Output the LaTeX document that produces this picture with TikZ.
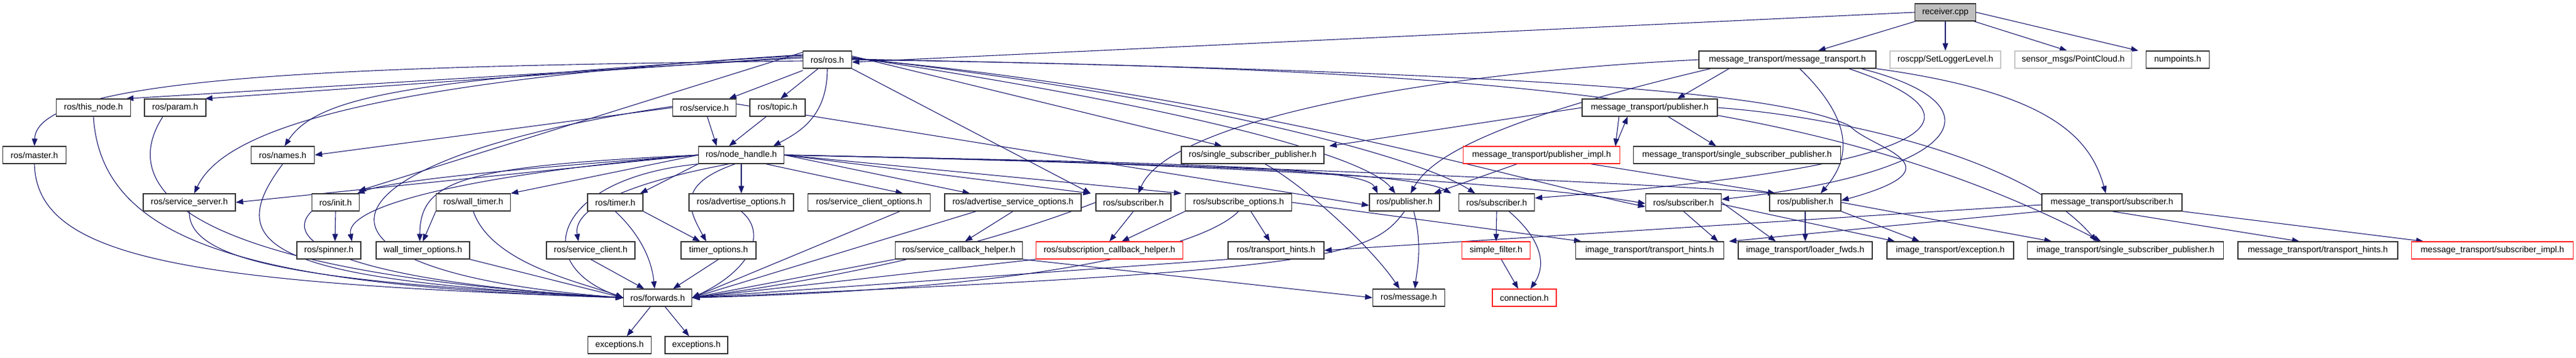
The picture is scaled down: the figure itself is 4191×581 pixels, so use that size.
\documentclass[tikz,border=0pt]{standalone}
\usepackage{fontspec}
\setmainfont{Liberation Sans}
\usetikzlibrary{arrows.meta}
\definecolor{mblue}{HTML}{191970}
\definecolor{rboxc}{HTML}{FF2020}
\pgfdeclarelayer{bg}
\pgfsetlayers{bg,main}
\tikzset{
  box/.style={draw=black!80, fill=white, line width=1.2pt, minimum height=28pt, inner sep=0pt, font=\fontsize{14}{16}\selectfont},
  redbox/.style={box, draw=rboxc},
  graybox/.style={box, draw=black!22},
  rootbox/.style={box, fill=black!25},
  edge/.style={draw=mblue, line width=1.1pt, -{Triangle[length=12pt,width=9pt]}},
}
\begin{document}
\begin{tikzpicture}[x=1pt,y=-1pt]
\useasboundingbox (0,0) rectangle (4191,581);
% row 0
\node[rootbox, minimum width=99pt] (rcv) at (3165,20) {receiver.cpp};
% row 1
\node[box, minimum width=79pt] (ros) at (1346,97) {ros/ros.h};
\node[box, minimum width=288pt] (mtmt) at (2908,97) {message\_transport/message\_transport.h};
\node[graybox, minimum width=180pt] (slog) at (3165,97) {roscpp/SetLoggerLevel.h};
\node[graybox, minimum width=190pt] (pcl) at (3373,97) {sensor\_msgs/PointCloud.h};
\node[box, minimum width=103pt] (nump) at (3543,97) {numpoints.h};
% row 2
\node[box, minimum width=121pt] (thisnode) at (152,175) {ros/this\_node.h};
\node[box, minimum width=100pt] (param) at (285,175) {ros/param.h};
\node[box, minimum width=103pt] (service) at (1146,175) {ros/service.h};
\node[box, minimum width=90pt] (topic) at (1265,175) {ros/topic.h};
\node[box, minimum width=220pt] (mtpub) at (2684,175) {message\_transport/publisher.h};
% row 3
\node[box, minimum width=103pt] (master) at (56,252) {ros/master.h};
\node[box, minimum width=103pt] (names) at (460,252) {ros/names.h};
\node[box, minimum width=139pt] (nh) at (1206,252) {ros/node\_handle.h};
\node[box, minimum width=232pt] (rssp) at (2038,252) {ros/single\_subscriber\_publisher.h};
\node[redbox, minimum width=255pt] (mtpubimpl) at (2508,252) {message\_transport/publisher\_impl.h};
\node[box, minimum width=337pt] (mtssp) at (2826,252) {message\_transport/single\_subscriber\_publisher.h};
% row 4
\node[box, minimum width=150pt] (srvserver) at (308,329) {ros/service\_server.h};
\node[box, minimum width=77pt] (init) at (546,329) {ros/init.h};
\node[box, minimum width=121pt] (walltimer) at (770,329) {ros/wall\_timer.h};
\node[box, minimum width=90pt] (timer) at (1001,329) {ros/timer.h};
\node[box, minimum width=170pt] (advopt) at (1206,329) {ros/advertise\_options.h};
\node[box, minimum width=199pt] (scliopt) at (1414,329) {ros/service\_client\_options.h};
\node[box, minimum width=222pt] (advsrvopt) at (1648,329) {ros/advertise\_service\_options.h};
\node[box, minimum width=122pt] (sub1) at (1844,329) {ros/subscriber.h};
\node[box, minimum width=173pt] (subopt) at (2015,329) {ros/subscribe\_options.h};
\node[box, minimum width=114pt] (pub1) at (2285,329) {ros/publisher.h};
\node[box, minimum width=123pt] (sub2) at (2435,329) {ros/subscriber.h};
\node[box, minimum width=123pt] (sub3) at (2739,329) {ros/subscriber.h};
\node[box, minimum width=116pt] (pub2) at (2937,329) {ros/publisher.h};
\node[box, minimum width=228pt] (mtsub) at (3436,329) {message\_transport/subscriber.h};
% row 5
\node[box, minimum width=104pt] (spinner) at (535,407) {ros/spinner.h};
\node[box, minimum width=152pt] (wtopt) at (688,407) {wall\_timer\_options.h};
\node[box, minimum width=144pt] (sclient) at (961,407) {ros/service\_client.h};
\node[box, minimum width=122pt] (topt) at (1169,407) {timer\_options.h};
\node[box, minimum width=207pt] (scbh) at (1560,407) {ros/service\_callback\_helper.h};
\node[redbox, minimum width=239pt] (subcbh) at (1805,407) {ros/subscription\_callback\_helper.h};
\node[box, minimum width=156pt] (rth) at (2076,407) {ros/transport\_hints.h};
\node[redbox, minimum width=111pt] (sfilter) at (2434,407) {simple\_filter.h};
\node[box, minimum width=241pt] (ith) at (2684,407) {image\_transport/transport\_hints.h};
\node[box, minimum width=218pt] (ilf) at (2937,407) {image\_transport/loader\_fwds.h};
\node[box, minimum width=206pt] (iexc) at (3173,407) {image\_transport/exception.h};
\node[box, minimum width=319pt] (issp) at (3458,407) {image\_transport/single\_subscriber\_publisher.h};
\node[box, minimum width=260pt] (mtth) at (3771,407) {message\_transport/transport\_hints.h};
\node[redbox, minimum width=263pt] (mtsubimpl) at (4055,407) {message\_transport/subscriber\_impl.h};
% row 6
\node[box, minimum width=111pt] (fwd) at (1070,484) {ros/forwards.h};
\node[box, minimum width=117pt] (msg) at (2292,484) {ros/message.h};
\node[redbox, minimum width=104pt] (conn) at (2480,484) {connection.h};
% row 7
\node[box, minimum width=103pt] (exc1) at (1008,561) {exceptions.h};
\node[box, minimum width=102pt] (exc2) at (1133,561) {exceptions.h};

\begin{pgfonlayer}{bg}
% ---- edges from receiver.cpp
\draw[edge] (rcv.west) -- ([yshift=-4pt]ros.east);
\draw[edge] (rcv) -- ([xshift=50pt]mtmt.north);
\draw[edge] (rcv) -- (slog);
\draw[edge] (rcv) -- ([xshift=-10pt]pcl.north);
\draw[edge] (rcv.east) -- ([xshift=-12pt]nump.north west);
% ---- from ros/ros.h
\draw[edge] ([yshift=-2pt]ros.west) .. controls (600,108) and (60,120) .. (master.north);
\draw[edge] ([yshift=3pt]ros.west) -- ([xshift=-8pt]thisnode.north east);
\draw[edge] ([yshift=5pt]ros.west) -- ([xshift=-2pt]param.north east);
\draw[edge] ([yshift=7pt]ros.west) .. controls (700,128) and (520,150) .. ([xshift=3pt]names.north);
\draw[edge] ([yshift=8pt]ros.west) .. controls (560,135) and (360,220) .. ([xshift=8pt]srvserver.north);
\draw[edge] ([yshift=12pt]ros.west) -- ([xshift=-2pt,yshift=4pt]init.north east);
\draw[edge] ([yshift=-3pt]ros.south west) -- ([xshift=40pt]service.north);
\draw[edge] ([xshift=-15pt]ros.south) -- ([xshift=5pt]topic.north);
\draw[edge] (ros.south) .. controls (1346,190) and (1300,215) .. ([xshift=-18pt]nh.north east);
\draw[edge] ([yshift=6pt]ros.east) -- ([xshift=-50pt]rssp.north);
\draw[edge] (ros.south east) -- ([xshift=-8pt]sub1.north west);
\draw[edge] ([yshift=4pt]ros.east) .. controls (1900,170) and (2220,250) .. ([xshift=-15pt]pub1.north);
\draw[edge] ([yshift=3pt]ros.east) .. controls (1900,150) and (2300,250) .. ([xshift=-35pt]sub2.north);
\draw[edge] ([yshift=2pt]ros.east) .. controls (2000,150) and (2500,300) .. ([yshift=-7pt]sub3.west);
\draw[edge] ([yshift=1pt]ros.east) .. controls (2500,118) and (2900,150) .. (3010,205) .. controls (3040,240) and (3200,270) .. ([yshift=3pt]pub2.east);
\draw[edge] ([yshift=0pt]ros.east) .. controls (2400,112) and (2950,150) .. ([xshift=-40pt]issp.north);
% ---- from message_transport.h
\draw[edge] (mtmt.west) .. controls (2300,120) and (1900,200) .. ([xshift=8pt]sub1.north);
\draw[edge] ([xshift=-125pt]mtmt.south) .. controls (2450,190) and (2330,250) .. ([xshift=10pt]pub1.north);
\draw[edge] ([xshift=-95pt]mtmt.south) -- ([xshift=45pt]mtpub.north);
\draw[edge] ([xshift=20pt]mtmt.south) .. controls (3030,210) and (3000,270) .. ([xshift=25pt]pub2.north);
\draw[edge] ([xshift=100pt]mtmt.south) .. controls (3240,190) and (3180,270) .. ([yshift=7pt]sub2.east);
\draw[edge] ([xshift=120pt]mtmt.south) .. controls (3260,170) and (3200,280) .. ([yshift=5pt]sub3.east);
\draw[edge] (mtmt.south east) .. controls (3330,150) and (3400,220) .. ([xshift=-10pt]mtsub.north);
% ---- from message_transport/publisher.h
\draw[edge] (mtpub.west) -- ([xshift=8pt]rssp.north east);
\draw[edge] ([xshift=-50pt]mtpub.south) -- ([xshift=-8pt]mtpubimpl.north east);
\draw[edge] ([xshift=-8pt]mtpubimpl.north east) -- ([xshift=-36pt]mtpub.south);
\draw[edge] ([xshift=30pt]mtpub.south) -- ([xshift=-34pt]mtssp.north);
\draw[edge] (mtpub.east) .. controls (3000,190) and (3300,260) .. ([xshift=-47pt]issp.north);
% ---- from publisher_impl
\draw[edge] ([xshift=-40pt]mtpubimpl.south) -- ([xshift=-10pt]pub1.north east);
\draw[edge] ([xshift=80pt]mtpubimpl.south) -- ([xshift=10pt]pub2.north west);
% ---- from node_handle
\draw[edge] (nh.south west) .. controls (900,290) and (860,430) .. (fwd.west);
\draw[edge] (nh.west) -- (srvserver.east);
\draw[edge] (nh.west) .. controls (900,270) and (650,290) .. ([xshift=-4pt]init.north east);
\draw[edge] (nh.west) .. controls (800,280) and (560,330) .. ([xshift=-15pt]spinner.north east);
\draw[edge] (nh.west) .. controls (760,270) and (683,290) .. ([xshift=-5pt]wtopt.north);
\draw[edge] (nh.west) -- (walltimer.north east);
\draw[edge] (nh.south west) -- ([xshift=-5pt]timer.north east);
\draw[edge] ([xshift=-20pt]nh.south) .. controls (1060,290) and (930,330) .. ([xshift=-20pt]sclient.north);
\draw[edge] ([xshift=-10pt]nh.south) .. controls (1100,300) and (1120,340) .. ([xshift=-20pt]topt.north);
\draw[edge] (nh.south) -- (advopt.north);
\draw[edge] ([xshift=40pt]nh.south) -- ([xshift=-45pt]scliopt.north east);
\draw[edge] (nh.east) -- ([xshift=-70pt]advsrvopt.north);
\draw[edge] (nh.east) -- ([xshift=-8pt]sub1.north west);
\draw[edge] (nh.east) -- ([xshift=-6pt]subopt.north west);
\draw[edge] (nh.east) .. controls (1900,265) and (2220,270) .. ([xshift=14pt]pub1.north west);
\draw[edge] (nh.east) .. controls (1900,265) and (2300,280) .. ([xshift=-12pt]sub2.north west);
\draw[edge] (nh.east) .. controls (2000,265) and (2500,300) .. ([yshift=-2pt]sub3.west);
\draw[edge] (nh.east) .. controls (2100,270) and (2700,300) .. ([xshift=10pt]pub2.north west);
% ---- service / topic
\draw[edge] (service.west) -- (names.east);
\draw[edge] (service) -- ([xshift=-40pt]nh.north);
\draw[edge] (topic) -- ([xshift=-20pt]nh.north);
\draw[edge] ([yshift=2pt]service.west) .. controls (500,260) and (430,440) .. (fwd.west);
\draw[edge] ([yshift=6pt]service.east) -- ([yshift=-5pt]pub1.west);
% ---- into forwards from left
\draw[edge] (master.south) .. controls (60,420) and (300,460) .. (fwd.west);
\draw[edge] (thisnode.south) .. controls (165,400) and (420,465) .. (fwd.west);
\draw[edge] ([xshift=-20pt]param.south) .. controls (200,290) and (250,440) .. (fwd.west);
\draw[edge] (srvserver.south) .. controls (305,430) and (520,460) .. (fwd.west);
\draw[edge] (names.south) .. controls (360,400) and (430,455) .. (fwd.west);
\draw[edge] (init.south west) .. controls (450,400) and (600,460) .. (fwd.west);
\draw[edge] (init.south) -- ([xshift=10pt]spinner.north);
\draw[edge] (walltimer.south west) -- (wtopt.north);
\draw[edge] (wtopt.south east) -- (fwd.west);
\draw[edge] (walltimer.south) .. controls (800,430) and (950,460) .. (fwd.west);
\draw[edge] (timer.south) .. controls (1040,380) and (1060,420) .. ([xshift=-5pt]fwd.north);
\draw[edge] (timer.south east) -- ([xshift=-30pt]topt.north);
\draw[edge] (sclient.south) -- ([xshift=-22pt]fwd.north);
\draw[edge] (topt.south) -- ([xshift=25pt]fwd.north);
\draw[edge] (advopt.south) .. controls (1250,380) and (1220,440) .. (fwd.east);
\draw[edge] ([xshift=50pt]scliopt.south) -- (fwd.east);
\draw[edge] ([xshift=-60pt]advsrvopt.south) -- (fwd.east);
\draw[edge] (advsrvopt.south) -- ([xshift=10pt]scbh.north);
\draw[edge] (sub1.west) .. controls (1650,380) and (1450,440) .. (fwd.east);
\draw[edge] (sub1.south) -- (subcbh.north);
\draw[edge] (scbh.south west) -- (fwd.east);
\draw[edge] (scbh.south east) -- (msg.west);
\draw[edge] (subcbh.south west) -- (fwd.east);
\draw[edge] (subopt.south west) -- ([xshift=20pt]subcbh.north);
\draw[edge] (subopt.south) .. controls (1960,400) and (1700,470) .. (fwd.east);
\draw[edge] ([xshift=20pt]subopt.south) -- ([xshift=-10pt]rth.north);
\draw[edge] (subopt.east) -- ([xshift=10pt]ith.north west);
\draw[edge] (rth.south west) -- (fwd.east);
\draw[edge] (pub1.south) .. controls (2230,420) and (2150,440) .. (fwd.east);
\draw[edge] ([xshift=15pt]pub1.south) .. controls (2315,400) and (2305,440) .. ([xshift=10pt]msg.north);
\draw[edge] ([xshift=20pt]rssp.south) .. controls (2120,300) and (2230,400) .. ([xshift=-15pt]msg.north);
\draw[edge] (fwd) -- (exc1);
\draw[edge] (fwd) -- (exc2);
% ---- subscribers/publishers
\draw[edge] (sub2.south) -- (sfilter.north);
\draw[edge] ([xshift=20pt]sub2.south) .. controls (2520,400) and (2510,440) .. ([xshift=10pt]conn.north);
\draw[edge] (sfilter) -- ([xshift=-10pt]conn.north);
\draw[edge] (sub3.south) -- ([xshift=-10pt]ith.north east);
\draw[edge] (sub3.east) -- ([xshift=-48pt]ilf.north);
\draw[edge] ([yshift=-3pt]sub3.east) -- ([xshift=-90pt]iexc.north);
\draw[edge] (pub2.south) -- (ilf.north);
\draw[edge] (pub2.south east) -- ([xshift=-50pt]iexc.north);
\draw[edge] (pub2.east) -- ([xshift=40pt]issp.north west);
% ---- message_transport/subscriber
\draw[edge] ([yshift=-4pt]mtsub.west) -- (rth.east);
\draw[edge] (mtsub.south west) -- ([xshift=8pt]ith.north east);
\draw[edge] (mtsub.south) -- ([xshift=-30pt]mtth.north);
\draw[edge] (mtsub.south east) -- ([xshift=20pt]mtsubimpl.north west);
\end{pgfonlayer}
\end{tikzpicture}
\end{document}
